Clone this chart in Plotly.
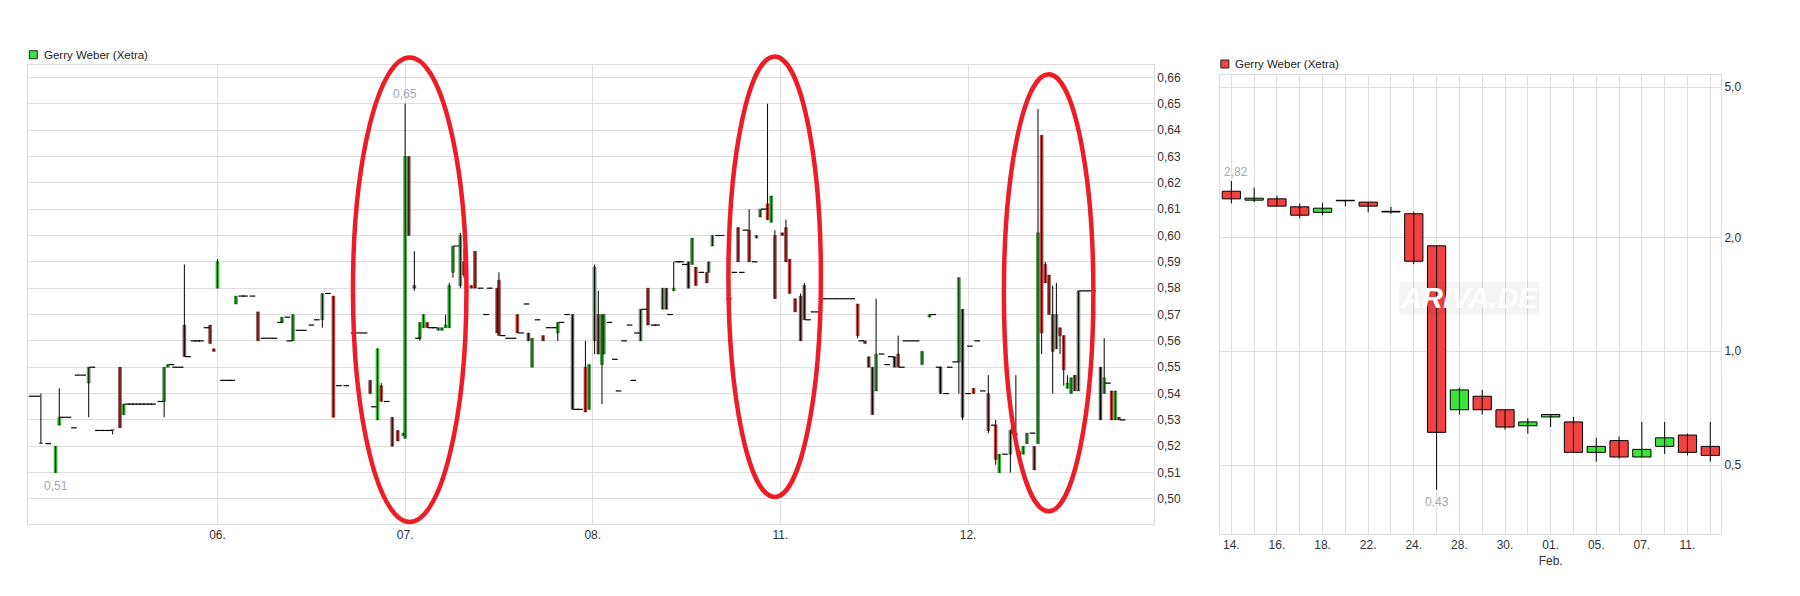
import math
import plotly.graph_objects as go

# ---------------- intraday chart (left): rows = (slot, open, high, low, close)
# slot unit = 10 minutes of trading time, 51 slots per trading day (05. .. 12.)
day05 = [
    (0.5, .539, .539, .539, .539), (2.0, .539, .539, .539, .539), (3.0, .521, .540, .521, .521),
    (5.0, .521, .521, .521, .521), (7.0, .510, .520, .510, .520), (8.0, .528, .542, .528, .531),
    (9.0, .531, .531, .531, .531), (10.5, .531, .531, .531, .531), (12.0, .527, .527, .527, .527),
    (13.0, .547, .547, .547, .547), (14.5, .547, .547, .547, .547), (16.0, .544, .550, .531, .550),
    (17.0, .550, .550, .550, .550), (18.5, .526, .526, .526, .526), (20.0, .526, .526, .526, .526),
    (21.5, .526, .526, .526, .526), (22.5, .526, .526, .5245, .526), (24.5, .550, .550, .527, .527),
    (25.5, .532, .536, .532, .536), (26.5, .536, .536, .536, .536), (27.5, .536, .536, .536, .536),
    (28.5, .536, .536, .536, .536), (29.5, .536, .536, .536, .536), (30.5, .536, .536, .536, .536),
    (31.5, .536, .536, .536, .536), (32.5, .536, .536, .536, .536), (33.5, .536, .536, .536, .536),
    (35.5, .537, .537, .537, .537), (36.5, .537, .550, .531, .550), (37.5, .550, .551, .550, .551),
    (38.5, .551, .551, .551, .551), (39.5, .550, .550, .550, .550), (41.0, .550, .550, .550, .550),
    (42.0, .566, .589, .554, .554), (43.0, .554, .554, .554, .554), (44.5, .560, .560, .560, .560),
    (45.5, .560, .560, .560, .560), (46.5, .560, .560, .560, .560), (48.0, .565, .565, .565, .565),
    (49.0, .566, .566, .559, .559), (50.0, .557, .557, .556, .556),
]
day06 = [
    (51.0, .580, .591, .580, .590), (52.5, .545, .545, .545, .545), (54.0, .545, .545, .545, .545),
    (55.0, .545, .545, .545, .545), (56.0, .574, .577, .574, .577), (57.5, .577, .577, .577, .577),
    (58.5, .577, .577, .577, .577), (60.5, .577, .577, .577, .577), (62.0, .571, .571, .560, .560),
    (63.5, .561, .561, .561, .561), (65.0, .561, .561, .561, .561), (66.5, .561, .561, .561, .561),
    (68.0, .567, .567, .567, .567), (68.5, .567, .569, .567, .569), (70.0, .569, .569, .569, .569),
    (70.5, .560, .560, .560, .560), (71.5, .560, .570, .560, .570), (73.0, .564, .564, .564, .564),
    (74.5, .564, .564, .564, .564), (76.5, .566, .566, .566, .566), (78.0, .568, .568, .568, .568),
    (79.5, .568, .578, .565, .578), (81.0, .578, .578, .578, .578), (82.5, .577, .577, .531, .531),
    (84.0, .543, .543, .543, .543), (86.0, .543, .543, .543, .543), (88.0, .563, .563, .563, .563),
    (89.5, .563, .563, .563, .563), (91.0, .563, .563, .563, .563), (92.5, .545, .545, .540, .540),
    (93.5, .535, .535, .535, .535), (94.5, .530, .557, .530, .557), (95.5, .543, .544, .537, .537),
    (97.0, .537, .537, .537, .537), (98.5, .531, .531, .520, .520), (100.0, .526, .526, .522, .522),
    (101.5, .524, .525, .524, .525),
]
day07 = [
    (102.0, .523, .650, .523, .630), (103.0, .630, .630, .600, .600), (104.5, .581, .594, .579, .580),
    (105.5, .561, .561, .561, .561), (106.0, .561, .567, .560, .567), (107.0, .565, .570, .565, .570),
    (108.0, .567, .567, .565, .565), (109.0, .565, .565, .565, .565), (110.0, .565, .565, .565, .565),
    (111.0, .564, .565, .564, .565), (112.0, .564, .565, .564, .565), (113.0, .565, .570, .565, .566),
    (114.0, .565, .582, .565, .581), (115.0, .586, .596, .584, .596), (116.0, .596, .596, .596, .596),
    (117.0, .581, .601, .580, .600), (118.0, .590, .595, .584, .585), (120.0, .581, .581, .580, .580),
    (121.0, .594, .594, .580, .580), (122.5, .580, .580, .580, .580), (124.0, .570, .570, .570, .570),
    (125.0, .580, .580, .580, .580), (127.0, .580, .580, .563, .563), (127.5, .583, .586, .562, .562),
    (128.5, .562, .562, .562, .562), (130.0, .561, .561, .561, .561), (131.5, .561, .561, .561, .561),
    (132.5, .570, .570, .563, .563), (133.5, .563, .563, .563, .563), (135.0, .574, .574, .574, .574),
    (135.5, .563, .563, .560, .560), (136.5, .550, .561, .550, .561), (138.0, .568, .568, .568, .568),
    (139.5, .562, .562, .560, .560), (141.0, .565, .565, .565, .565), (142.5, .565, .565, .565, .565),
    (143.5, .563, .567, .560, .567), (144.5, .567, .567, .567, .567), (146.0, .570, .570, .570, .570),
    (147.5, .570, .570, .534, .534), (148.5, .534, .534, .534, .534), (149.5, .534, .534, .534, .534),
    (151.0, .550, .560, .533, .533), (152.0, .534, .551, .534, .551),
]
day08 = [
    (153.5, .560, .589, .555, .588), (154.5, .570, .579, .555, .555), (155.5, .551, .570, .536, .570),
    (156.0, .555, .570, .555, .570), (157.5, .567, .567, .567, .567), (159.0, .553, .553, .553, .553),
    (160.0, .541, .541, .541, .541), (161.5, .560, .560, .560, .560), (163.0, .566, .566, .566, .566),
    (164.0, .545, .545, .545, .545), (165.0, .563, .563, .563, .563), (166.0, .560, .572, .560, .572),
    (167.0, .572, .572, .572, .572), (168.0, .580, .580, .566, .566), (169.5, .566, .566, .566, .566),
    (170.5, .566, .566, .566, .566), (172.0, .572, .580, .572, .580), (173.0, .580, .580, .572, .572),
    (174.0, .570, .570, .570, .570), (175.0, .579, .590, .579, .580), (176.0, .590, .590, .590, .590),
    (177.0, .590, .590, .590, .590), (178.0, .589, .589, .589, .589), (179.0, .590, .590, .580, .580),
    (180.0, .589, .599, .589, .599), (181.0, .588, .588, .581, .581), (182.5, .586, .586, .586, .586),
    (184.0, .586, .586, .582, .582), (184.5, .586, .590, .586, .590), (185.5, .596, .600, .596, .600),
    (187.0, .600, .600, .600, .600), (188.0, .600, .600, .600, .600), (190.0, .576, .576, .576, .576),
    (191.5, .586, .586, .586, .586), (192.5, .603, .603, .590, .590), (193.5, .586, .586, .586, .586),
    (194.5, .602, .602, .602, .602), (195.5, .602, .610, .590, .590), (197.0, .590, .590, .590, .590),
    (197.5, .599, .600, .599, .600), (198.5, .607, .610, .607, .610), (199.5, .610, .610, .610, .610),
    (200.5, .612, .650, .606, .606), (201.5, .605, .615, .605, .615), (202.5, .600, .602, .576, .576),
]
day11 = [
    (204.5, .601, .601, .600, .600), (205.5, .603, .606, .590, .590), (206.5, .591, .591, .578, .578),
    (208.0, .576, .576, .571, .571), (209.5, .577, .578, .560, .560), (210.5, .581, .582, .568, .568),
    (211.5, .568, .568, .568, .568), (213.0, .571, .571, .571, .571), (214.5, .571, .571, .571, .571),
    (216.0, .576, .576, .576, .576), (217.5, .576, .576, .576, .576), (219.0, .576, .576, .576, .576),
    (220.5, .576, .576, .576, .576), (222.0, .576, .576, .576, .576), (223.5, .576, .576, .576, .576),
    (225.0, .574, .574, .561, .562), (226.0, .560, .560, .560, .560), (227.0, .560, .560, .559, .559),
    (228.0, .554, .554, .550, .550), (229.0, .550, .550, .532, .532), (230.0, .541, .576, .541, .555),
    (231.5, .555, .555, .555, .555), (233.0, .551, .551, .551, .551), (234.0, .554, .554, .554, .554),
    (235.0, .554, .554, .550, .550), (236.0, .555, .562, .550, .550), (237.0, .550, .550, .550, .550),
    (238.0, .560, .560, .560, .560), (239.5, .560, .560, .560, .560), (241.0, .560, .560, .560, .560),
    (242.5, .551, .556, .551, .556), (244.5, .569, .570, .569, .570), (245.5, .570, .570, .570, .570),
    (247.0, .550, .550, .550, .550), (247.5, .550, .550, .540, .540), (249.0, .540, .540, .540, .540),
    (250.0, .550, .550, .550, .550), (251.5, .552, .552, .552, .552), (252.5, .552, .584, .540, .584),
    (253.5, .572, .572, .530, .531),
]
day12 = [
    (255.0, .540, .540, .540, .540), (255.5, .558, .558, .558, .558), (256.5, .542, .542, .540, .540),
    (257.5, .560, .560, .560, .560), (259.0, .541, .541, .541, .541), (260.5, .540, .547, .525, .526),
    (262.0, .528, .528, .528, .528), (262.5, .528, .530, .513, .515), (263.5, .510, .517, .510, .517),
    (265.0, .517, .517, .517, .517), (266.5, .517, .526, .510, .526), (267.0, .527, .527, .525, .525),
    (268.0, .524, .547, .524, .525), (269.0, .518, .518, .517, .517), (270.0, .517, .520, .517, .520),
    (271.0, .521, .525, .521, .525), (272.5, .525, .525, .525, .525), (273.0, .520, .520, .511, .511),
    (274.0, .521, .648, .521, .601), (275.0, .638, .638, .555, .563), (276.0, .589, .590, .582, .582),
    (277.0, .585, .585, .570, .570), (278.0, .570, .581, .540, .556), (279.0, .557, .582, .557, .570),
    (280.0, .565, .565, .555, .562), (281.0, .562, .562, .543, .549), (282.0, .542, .547, .542, .544),
    (283.0, .540, .546, .540, .546), (284.0, .547, .547, .541, .541), (285.0, .541, .579, .541, .579),
    (286.0, .579, .579, .579, .579), (287.5, .579, .579, .579, .579), (289.0, .579, .579, .579, .579),
    (291.0, .550, .550, .530, .530), (292.0, .540, .561, .540, .546), (293.0, .544, .544, .544, .544),
    (294.0, .541, .541, .530, .530), (295.0, .530, .541, .530, .541), (296.0, .531, .531, .530, .530),
    (297.0, .530, .530, .530, .530),
]
intraday_tick_slots = [51, 102, 153, 204, 255]
intraday_tick_labels = ["06.", "07.", "08.", "11.", "12."]

# ---------------- daily chart (right)
daily_labels = ["14.", "15.", "16.", "17.", "18.", "21.", "22.", "23.", "24.", "25.", "28.",
                "29.", "30.", "31.", "01.", "02.", "05.", "06.", "07.", "08.", "11.", "12."]
daily_open = [2.65, 2.51, 2.53, 2.41, 2.33, 2.50, 2.48, 2.345, 2.31, 1.90, 0.70,
              0.76, 0.70, 0.635, 0.67, 0.65, 0.54, 0.58, 0.525, 0.56, 0.60, 0.56]
daily_high = [2.82, 2.71, 2.58, 2.46, 2.47, 2.50, 2.48, 2.41, 2.34, 1.90, 0.80,
              0.79, 0.70, 0.665, 0.68, 0.67, 0.59, 0.595, 0.65, 0.65, 0.605, 0.65]
daily_low = [2.46, 2.48, 2.42, 2.25, 2.29, 2.42, 2.33, 2.31, 1.70, 0.43, 0.68,
             0.68, 0.62, 0.605, 0.63, 0.54, 0.51, 0.52, 0.525, 0.535, 0.53, 0.51]
daily_close = [2.53, 2.54, 2.42, 2.29, 2.39, 2.50, 2.42, 2.335, 1.73, 0.61, 0.79,
               0.70, 0.63, 0.65, 0.68, 0.54, 0.56, 0.525, 0.55, 0.59, 0.54, 0.53]
daily_feb_first = "01."

GREEN = "#3be43b"
RED = "#f14141"
GRID = "#dddddd"
ELLIPSE = "#ee1d25"
LABEL_GREY = "#a3a9b3"
FONT = "Liberation Sans, Arial, sans-serif"

# page coordinates of the plotting region (the figure sits 8px inside the page)
OFF = 8
W, H = 1800, 596
P_LEFT, P_RIGHT, P_TOP, P_BOTTOM = 28, 1721.2, 65, 534
ML, MT = P_LEFT - OFF, P_TOP - OFF
MR, MB = OFF + W - P_RIGHT, OFF + H - P_BOTTOM
PW, PH = P_RIGHT - P_LEFT, P_BOTTOM - P_TOP


def px_x(px):
    return (px - P_LEFT) / PW


def px_y(py):
    return (P_BOTTOM - py) / PH


rows = day05 + day06 + day07 + day08 + day11 + day12
cand = [r for r in rows if not (r[1] == r[2] == r[3] == r[4])]
flat = [r for r in rows if r[1] == r[2] == r[3] == r[4]]

fig = go.Figure()


def add_candles(xs, o, h, l, c, xa, ya, width, tiny_frac, lw):
    wx, wy = [], []
    for x, lo, hi in zip(xs, l, h):
        wx += [x, x, None]
        wy += [lo, hi, None]
    fig.add_trace(go.Scatter(x=wx, y=wy, mode="lines", line=dict(color="black", width=1),
                             xaxis=xa, yaxis=ya, showlegend=False, hoverinfo="skip"))
    base = [min(a, b) for a, b in zip(o, c)]
    length = [max(abs(b - a), a * tiny_frac) for a, b in zip(o, c)]
    colors = [GREEN if b > a else RED for a, b in zip(o, c)]
    fig.add_trace(go.Bar(x=xs, y=length, base=base, width=width,
                         marker=dict(color=colors, line=dict(color="black", width=lw)),
                         xaxis=xa, yaxis=ya, showlegend=False, hoverinfo="skip"))


add_candles([r[0] for r in cand], [r[1] for r in cand], [r[2] for r in cand],
            [r[3] for r in cand], [r[4] for r in cand], "x", "y", 0.8, 0.0006, 0.35)

fig.add_trace(go.Scatter(
    x=[r[0] for r in flat], y=[r[4] for r in flat], mode="markers",
    marker=dict(symbol="line-ew", size=4, line=dict(color="black", width=1.2)),
    xaxis="x", yaxis="y", showlegend=False, hoverinfo="skip"))

idx = list(range(len(daily_labels)))
add_candles(idx, daily_open, daily_high, daily_low, daily_close, "x2", "y2", 0.8, 0.003, 1)

ticktext2 = []
for i, lab in enumerate(daily_labels):
    if i % 2:
        ticktext2.append("")
    elif lab == daily_feb_first:
        ticktext2.append(lab + "<br>Feb.")
    else:
        ticktext2.append(lab)

axis_common = dict(showgrid=True, gridcolor=GRID, gridwidth=1, zeroline=False,
                   showline=True, mirror=True, linecolor=GRID, linewidth=1, ticks="",
                   tickfont=dict(family=FONT, size=12, color="#333333"))

fig.update_layout(
    width=W, height=H, margin=dict(l=ML, r=MR, t=MT, b=MB, pad=0),
    paper_bgcolor="white", plot_bgcolor="white", separators=",.",
    barmode="overlay", showlegend=False,
    font=dict(family=FONT, size=12, color="#333333"),
    xaxis=dict(domain=[0, px_x(1154)], anchor="y", range=[-0.5, 305.5],
               tickmode="array", tickvals=intraday_tick_slots, ticktext=intraday_tick_labels,
               **axis_common),
    yaxis=dict(domain=[px_y(524), 1], anchor="x", range=[0.4905, 0.6647], side="right",
               tick0=0.5, dtick=0.01, tickformat=".2f", **axis_common),
    xaxis2=dict(domain=[px_x(1220.3), 1], anchor="y2", range=[-0.49, 21.47],
                tickmode="array", tickvals=idx, ticktext=ticktext2, **axis_common),
    yaxis2=dict(domain=[0, px_y(75)], anchor="x2", type="log",
                range=[math.log10(0.3284), math.log10(5.38)], side="right",
                tickmode="array", tickvals=[0.5, 1, 2, 5], ticktext=["0,5", "1,0", "2,0", "5,0"],
                **axis_common),
)

# min / max labels
hi_i = max(range(len(rows)), key=lambda k: rows[k][2])
lo_i = min(range(len(rows)), key=lambda k: rows[k][3])
d_hi = max(idx, key=lambda k: daily_high[k])
d_lo = min(idx, key=lambda k: daily_low[k])


def fmt(v):
    return f"{v:.2f}".replace(".", ",")


ann = [
    dict(x=rows[hi_i][0], y=rows[hi_i][2], xref="x", yref="y", text=fmt(rows[hi_i][2]), yshift=10),
    dict(x=rows[lo_i][0], y=rows[lo_i][3], xref="x", yref="y", text=fmt(rows[lo_i][3]), yshift=-13),
    dict(x=d_hi, y=math.log10(daily_high[d_hi]), xref="x2", yref="y2", text=fmt(daily_high[d_hi]),
         yshift=9, xshift=5),
    dict(x=d_lo, y=math.log10(daily_low[d_lo]), xref="x2", yref="y2", text=fmt(daily_low[d_lo]),
         yshift=-12),
]
for a in ann:
    fig.add_annotation(showarrow=False, xanchor="center", yanchor="middle",
                       font=dict(family=FONT, size=12, color=LABEL_GREY), **a)

# legends
for sq, txt_x, cy, col in [((29.3, 50.7, 37.3, 58.7), 42, 55, GREEN),
                           ((1221.0, 60.0, 1229.0, 68.0), 1233.5, 64, RED)]:
    fig.add_shape(type="rect", xref="paper", yref="paper",
                  x0=px_x(sq[0]), x1=px_x(sq[2]), y0=px_y(sq[3]), y1=px_y(sq[1]),
                  fillcolor=col, line=dict(color="#222222", width=1))
    fig.add_annotation(x=px_x(txt_x), y=px_y(cy), xref="paper", yref="paper",
                       xanchor="left", yanchor="middle", showarrow=False,
                       text="Gerry Weber (Xetra)",
                       font=dict(family=FONT, size=11.5, color="#222222"))

# watermark
fig.add_annotation(x=px_x(1470), y=px_y(298), xref="paper", yref="paper", showarrow=False,
                   xanchor="center", yanchor="middle",
                   text="<b><i>ARIVA.DE</i></b>", bgcolor="rgba(0,0,0,0.045)",
                   font=dict(family=FONT, size=29, color="white"), borderpad=0)

# highlight ellipses
for (x0, y0, x1, y1) in [(353, 57.5, 466.5, 522), (728.5, 56.5, 821, 497), (1004, 74.2, 1093.5, 511.3)]:
    fig.add_shape(type="circle", xref="paper", yref="paper",
                  x0=px_x(x0), x1=px_x(x1), y0=px_y(y1), y1=px_y(y0),
                  line=dict(color=ELLIPSE, width=4.5), fillcolor="rgba(0,0,0,0)")

fig.write_html("out.html")
